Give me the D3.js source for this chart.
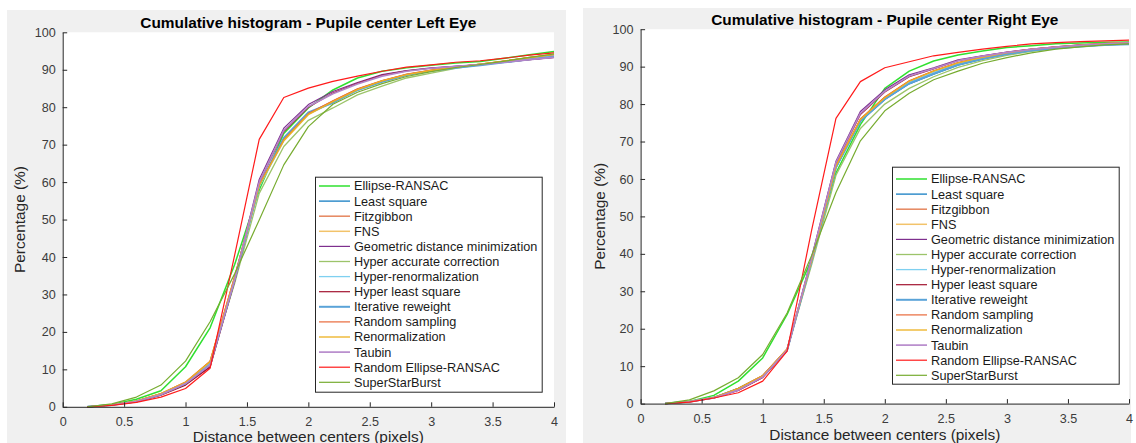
<!DOCTYPE html>
<html>
<head>
<meta charset="utf-8">
<script src="https://cdn.jsdelivr.net/npm/d3@7"></script>
<style>
  body { margin: 0; background: #fff; }
  svg { display: block; }
  text { font-family: "Liberation Sans", Arial, Helvetica, sans-serif; }
</style>
</head>
<body>
<svg id="chart" width="1136" height="443"></svg>
<script>
// Distance thresholds (pixels) at which the cumulative percentages are sampled
const distances = [0.2, 0.4, 0.6, 0.8, 1.0, 1.2, 1.4, 1.6, 1.8, 2.0, 2.2, 2.4, 2.6, 2.8, 3.0, 3.2, 3.4, 3.6, 3.8, 4.0];

const methods = [
  "Ellipse-RANSAC", "Least square", "Fitzgibbon", "FNS", "Geometric distance minimization",
  "Hyper accurate correction", "Hyper-renormalization", "Hyper least square", "Iterative reweight",
  "Random sampling", "Renormalization", "Taubin", "Random Ellipse-RANSAC", "SuperStarBurst"
];

const xTicks = [0, 0.5, 1, 1.5, 2, 2.5, 3, 3.5, 4];
const xTickLabels = ["0", "0.5", "1", "1.5", "2", "2.5", "3", "3.5", "4"];
const yTicks = [0, 10, 20, 30, 40, 50, 60, 70, 80, 90, 100];

// Left eye: cumulative percentage of frames within each distance
const leftEllipseRansac   = [0, 0.6, 2.0, 4.3, 10.7, 21.1, 38.0, 57.9, 73.0, 79.8, 84.6, 87.8, 89.6, 90.5, 91.2, 91.8, 92.2, 93.1, 94.0, 94.9];
const leftLeastSquare     = [0, 0.5, 1.4, 3.3, 6.3, 11.4, 34.0, 59.0, 71.6, 78.4, 81.4, 84.7, 86.9, 88.7, 89.8, 90.6, 91.3, 92.1, 92.9, 93.6];
const leftFitzgibbon      = [0, 0.5, 1.5, 3.5, 6.5, 12.0, 34.5, 59.2, 71.2, 78.2, 81.6, 84.8, 87.0, 88.8, 89.9, 90.7, 91.5, 92.3, 93.2, 94.0];
const leftFns             = [0, 0.5, 1.5, 3.5, 6.6, 12.1, 34.6, 59.0, 71.0, 78.0, 81.4, 84.6, 86.9, 88.7, 89.8, 90.7, 91.5, 92.3, 93.2, 94.1];
const leftGeometric       = [0, 0.5, 1.4, 3.2, 6.0, 10.7, 34.0, 60.7, 74.4, 80.7, 84.2, 86.6, 88.7, 89.8, 90.5, 90.9, 91.4, 92.0, 92.7, 93.3];
const leftHyperAccurate   = [0, 0.5, 1.5, 3.4, 6.4, 11.8, 33.0, 57.0, 69.5, 76.5, 79.8, 83.3, 85.6, 87.8, 89.1, 90.4, 91.4, 92.3, 93.2, 94.1];
const leftHyperRenorm     = [0, 0.5, 1.4, 3.4, 6.4, 11.6, 34.2, 58.8, 71.2, 78.2, 81.2, 84.5, 86.8, 88.6, 89.7, 90.6, 91.4, 92.2, 93.0, 93.8];
const leftHyperLeast      = [0, 0.5, 1.3, 3.1, 5.8, 10.6, 33.5, 59.8, 73.5, 80.0, 83.8, 86.4, 88.5, 89.7, 90.4, 90.9, 91.4, 92.0, 92.7, 93.3];
const leftIterative       = [0, 0.5, 1.4, 3.3, 6.2, 11.3, 34.0, 59.2, 71.8, 78.6, 81.2, 84.6, 86.8, 88.6, 89.7, 90.5, 91.2, 92.0, 92.8, 93.5];
const leftRandomSampling  = [0, 0.5, 1.5, 3.5, 6.6, 12.2, 34.8, 59.3, 71.3, 78.3, 81.7, 84.9, 87.1, 88.8, 89.9, 90.7, 91.5, 92.4, 93.3, 94.0];
const leftRenormalization = [0, 0.5, 1.5, 3.5, 6.5, 12.0, 34.5, 59.1, 71.1, 78.1, 81.5, 84.7, 87.0, 88.7, 89.8, 90.7, 91.5, 92.3, 93.2, 94.1];
const leftTaubin          = [0, 0.5, 1.4, 3.3, 6.2, 11.2, 34.0, 60.0, 73.8, 80.2, 83.6, 86.2, 88.3, 89.6, 90.4, 90.9, 91.4, 92.0, 92.7, 93.3];
const leftRandomRansac    = [0, 0.4, 1.2, 2.6, 4.9, 10.3, 40.5, 71.4, 82.6, 85.1, 86.9, 88.3, 89.6, 90.7, 91.3, 92.0, 92.4, 93.1, 93.9, 94.5];
const leftSuperStarBurst  = [0, 0.8, 2.6, 5.8, 12.2, 22.7, 35.5, 49.9, 64.6, 74.8, 80.8, 84.0, 86.3, 88.2, 89.5, 90.6, 91.4, 92.3, 93.3, 94.2];

// Right eye: cumulative percentage of frames within each distance
const rightEllipseRansac   = [0, 0.6, 2.2, 6.0, 12.2, 23.8, 38.4, 61.6, 74.5, 84.2, 88.8, 91.5, 93.1, 94.2, 95.1, 95.6, 96.1, 96.3, 96.5, 96.6];
const rightLeastSquare     = [0, 0.5, 1.6, 4.0, 7.3, 14.3, 38.0, 63.0, 75.4, 81.2, 85.4, 88.0, 90.4, 92.0, 93.3, 94.3, 94.9, 95.4, 95.8, 96.0];
const rightFitzgibbon      = [0, 0.5, 1.6, 4.0, 7.4, 14.5, 38.2, 63.4, 75.9, 81.8, 86.1, 88.8, 91.0, 92.5, 93.7, 94.6, 95.2, 95.7, 96.1, 96.3];
const rightFns             = [0, 0.5, 1.6, 4.0, 7.4, 14.4, 38.1, 63.3, 75.8, 81.6, 86.0, 88.7, 90.9, 92.4, 93.6, 94.5, 95.1, 95.6, 96.1, 96.3];
const rightGeometric       = [0, 0.5, 1.5, 3.5, 7.0, 14.2, 39.0, 64.7, 78.0, 83.8, 87.8, 89.7, 91.8, 92.9, 93.9, 94.7, 95.3, 95.8, 96.1, 96.2];
const rightHyperAccurate   = [0, 0.5, 1.6, 4.0, 7.4, 14.5, 37.0, 61.0, 73.5, 80.0, 84.2, 87.3, 89.8, 91.6, 93.0, 94.1, 94.9, 95.5, 95.9, 96.1];
const rightHyperRenorm     = [0, 0.5, 1.6, 4.0, 7.3, 14.4, 38.0, 63.1, 75.6, 81.4, 85.8, 88.5, 90.7, 92.3, 93.5, 94.4, 95.0, 95.5, 96.0, 96.2];
const rightHyperLeast      = [0, 0.5, 1.5, 3.6, 7.0, 14.1, 38.6, 64.2, 77.2, 83.2, 87.3, 89.4, 91.6, 92.8, 93.8, 94.6, 95.2, 95.7, 96.1, 96.3];
const rightIterative       = [0, 0.5, 1.6, 4.0, 7.3, 14.3, 38.0, 63.1, 75.5, 81.3, 85.5, 88.1, 90.5, 92.1, 93.4, 94.3, 94.9, 95.4, 95.8, 96.0];
const rightRandomSampling  = [0, 0.5, 1.6, 4.1, 7.5, 14.6, 38.3, 63.5, 76.0, 81.9, 86.2, 88.9, 91.1, 92.6, 93.8, 94.7, 95.3, 95.8, 96.2, 96.5];
const rightRenormalization = [0, 0.5, 1.6, 4.0, 7.4, 14.5, 38.2, 63.4, 75.9, 81.7, 86.1, 88.8, 91.0, 92.5, 93.7, 94.6, 95.2, 95.7, 96.1, 96.4];
const rightTaubin          = [0, 0.5, 1.5, 3.6, 7.1, 14.3, 38.8, 64.4, 77.5, 83.4, 87.5, 89.5, 91.6, 92.8, 93.8, 94.6, 95.2, 95.7, 96.1, 96.4];
const rightRandomRansac    = [0, 0.4, 1.5, 2.9, 6.0, 14.0, 46.2, 76.2, 86.0, 89.7, 91.3, 92.9, 93.8, 94.7, 95.4, 96.1, 96.4, 96.7, 96.9, 97.1];
const rightSuperStarBurst  = [0, 1.0, 3.4, 6.9, 13.1, 24.2, 39.5, 56.4, 70.2, 78.2, 82.9, 86.5, 88.8, 90.9, 92.4, 93.7, 94.7, 95.3, 95.8, 96.1];

// Line styling, one entry per method
const lineColors = [
  "#2fe02f", "#0072bd", "#e5865e", "#f2c36a", "#7e2f8e", "#9cc46a", "#7fd0f0",
  "#a2142f", "#5aa3d8", "#e8693a", "#edb120", "#b384c9", "#ff1a1a", "#77ac30"
];
const lineWidths = [1.5, 1.2, 1.5, 1.5, 1.2, 1.3, 1.3, 1.2, 2.0, 1.2, 1.3, 1.6, 1.2, 1.2];

const leftSeries = [leftEllipseRansac, leftLeastSquare, leftFitzgibbon, leftFns, leftGeometric,
  leftHyperAccurate, leftHyperRenorm, leftHyperLeast, leftIterative, leftRandomSampling,
  leftRenormalization, leftTaubin, leftRandomRansac, leftSuperStarBurst];
const rightSeries = [rightEllipseRansac, rightLeastSquare, rightFitzgibbon, rightFns, rightGeometric,
  rightHyperAccurate, rightHyperRenorm, rightHyperLeast, rightIterative, rightRandomSampling,
  rightRenormalization, rightTaubin, rightRandomRansac, rightSuperStarBurst];

const panels = [
  {
    title: "Cumulative histogram - Pupile center Left Eye",
    series: leftSeries,
    bg: { x: 7, y: 10, w: 559, h: 433 },
    plot: { x0: 62.7, x1: 554, yTop: 32.3, yBottom: 406.8 },
    titleY: 27.5, yLabelX: 25, xLabelY: 441.5,
    legend: { x: 315, y: 176.7, w: 226.7, h: 215, firstRow: 186 }
  },
  {
    title: "Cumulative histogram - Pupile center Right Eye",
    series: rightSeries,
    bg: { x: 583, y: 8, w: 548, h: 435 },
    plot: { x0: 640.6, x1: 1129, yTop: 29.2, yBottom: 403.6 },
    titleY: 25.4, yLabelX: 605, xLabelY: 440,
    legend: { x: 892, y: 166.7, w: 226.7, h: 217, firstRow: 179 }
  }
];

const svg = d3.select("#chart");
const axisColor = "#262626";
const tickTextColor = "#3c3c3c";

panels.forEach(p => {
  const g = svg.append("g");

  // figure background
  g.append("rect")
    .attr("x", p.bg.x).attr("y", p.bg.y)
    .attr("width", p.bg.w).attr("height", p.bg.h)
    .attr("fill", "#f0f0f0");

  const x = d3.scaleLinear().domain([0, 4]).range([p.plot.x0, p.plot.x1]);
  const y = d3.scaleLinear().domain([0, 100]).range([p.plot.yBottom, p.plot.yTop]);

  // axes background
  g.append("rect")
    .attr("x", p.plot.x0).attr("y", p.plot.yTop)
    .attr("width", p.plot.x1 - p.plot.x0).attr("height", p.plot.yBottom - p.plot.yTop)
    .attr("fill", "#ffffff");

  // curves
  const line = d3.line()
    .x((d, i) => x(distances[i]))
    .y(d => y(d));

  p.series.forEach((vals, i) => {
    g.append("path")
      .datum(vals)
      .attr("d", line)
      .attr("fill", "none")
      .attr("stroke", lineColors[i])
      .attr("stroke-width", lineWidths[i])
      .attr("stroke-linejoin", "round");
  });

  // x axis
  const xAxis = d3.axisBottom(x)
    .tickValues(xTicks)
    .tickFormat((d, i) => xTickLabels[i])
    .tickSizeInner(-4.5)
    .tickSizeOuter(0)
    .tickPadding(10);
  const gx = g.append("g")
    .attr("transform", `translate(0,${p.plot.yBottom})`)
    .call(xAxis);
  gx.select(".domain").attr("stroke", axisColor);
  gx.selectAll(".tick line").attr("stroke", axisColor);
  gx.selectAll(".tick text")
    .attr("fill", tickTextColor)
    .style("font-size", "12.6px")
    .style("font-family", "\"Liberation Sans\", Arial, sans-serif");

  // y axis
  const yAxis = d3.axisLeft(y)
    .tickValues(yTicks)
    .tickSizeInner(-4.5)
    .tickSizeOuter(0)
    .tickPadding(7);
  const gy = g.append("g")
    .attr("transform", `translate(${p.plot.x0},0)`)
    .call(yAxis);
  gy.select(".domain").attr("stroke", axisColor);
  gy.selectAll(".tick line").attr("stroke", axisColor);
  gy.selectAll(".tick text")
    .attr("fill", tickTextColor)
    .style("font-size", "12.6px")
    .style("font-family", "\"Liberation Sans\", Arial, sans-serif");

  // title
  g.append("text")
    .attr("x", (p.plot.x0 + p.plot.x1) / 2)
    .attr("y", p.titleY)
    .attr("text-anchor", "middle")
    .attr("font-weight", "bold")
    .attr("font-size", "15.4px")
    .attr("fill", "#000")
    .text(p.title);

  // axis labels
  g.append("text")
    .attr("x", (p.plot.x0 + p.plot.x1) / 2)
    .attr("y", p.xLabelY)
    .attr("text-anchor", "middle")
    .attr("font-size", "15.4px")
    .attr("fill", axisColor)
    .text("Distance between centers (pixels)");

  g.append("text")
    .attr("transform", `translate(${p.yLabelX},${(p.plot.yTop + p.plot.yBottom) / 2}) rotate(-90)`)
    .attr("text-anchor", "middle")
    .attr("font-size", "15.4px")
    .attr("fill", axisColor)
    .text("Percentage (%)");

  // legend
  const lg = g.append("g");
  lg.append("rect")
    .attr("x", p.legend.x + 0.5).attr("y", p.legend.y + 0.5)
    .attr("width", p.legend.w).attr("height", p.legend.h)
    .attr("fill", "#fff")
    .attr("stroke", axisColor)
    .attr("stroke-width", 1);

  const rowStep = 15.1;
  methods.forEach((name, i) => {
    const cy = p.legend.firstRow + i * rowStep;
    lg.append("line")
      .attr("x1", p.legend.x + 4).attr("x2", p.legend.x + 35)
      .attr("y1", cy).attr("y2", cy)
      .attr("stroke", lineColors[i])
      .attr("stroke-width", lineWidths[i]);
    lg.append("text")
      .attr("x", p.legend.x + 39)
      .attr("y", cy)
      .attr("dy", "0.35em")
      .attr("font-size", "12.7px")
      .attr("fill", "#1a1a1a")
      .text(name);
  });
});
</script>
</body>
</html>
